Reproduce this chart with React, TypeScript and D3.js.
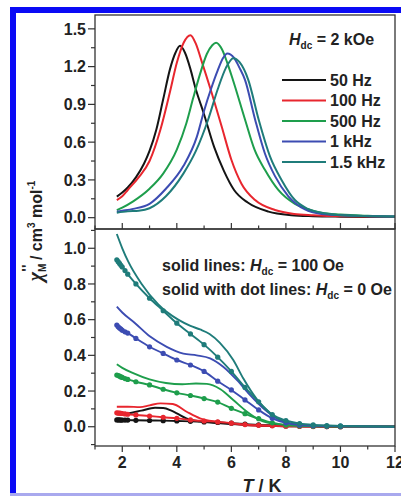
import React from "react";
import * as d3 from "d3";

type P = [number, number];

// ---------- Top panel (Hdc = 2 kOe) ----------
const TOP_LABELS = ["50 Hz", "100 Hz", "500 Hz", "1 kHz", "1.5 kHz"];
const TOP_50: P[] = [[1.8,0.167],[2.0,0.2],[2.2,0.24],[2.5,0.32],[2.8,0.43],[3.0,0.53],[3.25,0.7],[3.5,0.94],[3.75,1.18],[3.95,1.31],[4.12,1.365],[4.3,1.31],[4.5,1.18],[4.67,1.04],[5.0,0.82],[5.37,0.56],[5.73,0.37],[6.1,0.22],[6.6,0.12],[7.36,0.048],[8.2,0.02],[9,0.012],[10,0.008],[12,0.005]];
const TOP_100: P[] = [[1.8,0.14],[2.0,0.17],[2.2,0.22],[2.6,0.32],[3.0,0.45],[3.4,0.7],[3.75,1.0],[4.0,1.23],[4.25,1.39],[4.5,1.45],[4.7,1.38],[4.9,1.25],[5.28,0.99],[5.65,0.72],[6.0,0.46],[6.37,0.27],[6.87,0.14],[7.6,0.061],[8.3,0.03],[9,0.02],[10,0.012],[12,0.008]];
const TOP_500: P[] = [[1.8,0.06],[2.0,0.08],[2.4,0.13],[3.0,0.23],[3.5,0.35],[4.0,0.54],[4.35,0.75],[4.6,0.95],[4.85,1.14],[5.1,1.3],[5.3,1.37],[5.44,1.39],[5.65,1.34],[5.85,1.23],[6.05,1.1],[6.5,0.78],[6.85,0.54],[7.23,0.38],[7.72,0.22],[8.33,0.11],[8.7,0.075],[9.3,0.04],[10,0.025],[11,0.015],[12,0.01]];
const TOP_1K: P[] = [[1.8,0.048],[2.0,0.055],[2.4,0.07],[3.0,0.11],[3.6,0.23],[4.24,0.41],[4.73,0.64],[5.0,0.85],[5.25,1.02],[5.5,1.17],[5.7,1.27],[5.85,1.305],[6.1,1.27],[6.3,1.19],[6.5,1.095],[6.87,0.78],[7.23,0.51],[7.6,0.33],[8.09,0.17],[8.7,0.065],[9.3,0.03],[10,0.02],[12,0.01]];
const TOP_15K: P[] = [[1.8,0.04],[2.2,0.05],[2.6,0.055],[3.0,0.075],[3.6,0.17],[4.24,0.35],[4.7,0.53],[5.15,0.78],[5.5,1.02],[5.8,1.19],[6.07,1.267],[6.3,1.235],[6.62,1.095],[7.0,0.78],[7.42,0.485],[7.84,0.3],[8.33,0.14],[8.8,0.07],[9.4,0.035],[10,0.02],[12,0.01]];

// ---------- Bottom panel: solid = Hdc 100 Oe, dotted = Hdc 0 Oe ----------
const S_50: P[] = [[1.8,0.07],[2.2,0.075],[2.7,0.09],[3.2,0.106],[3.5,0.105],[3.8,0.09],[4.0,0.075],[4.35,0.047],[4.85,0.03],[5.5,0.02],[6.5,0.01],[8,0.003],[12,0]];
const S_100: P[] = [[1.8,0.112],[2.2,0.112],[2.65,0.11],[3.0,0.12],[3.4,0.131],[3.85,0.127],[4.36,0.084],[4.85,0.047],[5.46,0.028],[6.0,0.018],[6.5,0.01],[7.5,0.004],[12,0]];
const S_500: P[] = [[1.8,0.35],[2.0,0.33],[2.4,0.3],[3.0,0.265],[3.6,0.245],[4.2,0.238],[4.7,0.242],[5.1,0.24],[5.6,0.21],[6.07,0.15],[6.56,0.085],[7.05,0.037],[7.6,0.015],[8.5,0.005],[12,0]];
const S_1K: P[] = [[1.8,0.673],[2.0,0.64],[2.47,0.58],[3.02,0.505],[3.63,0.448],[4.24,0.41],[4.73,0.4],[5.22,0.383],[5.7,0.336],[6.2,0.262],[6.68,0.178],[7.17,0.103],[7.66,0.047],[8.1,0.02],[8.8,0.008],[10,0.003],[12,0]];
const S_15K: P[] = [[1.8,1.08],[2.0,1.0],[2.22,0.925],[2.71,0.8],[3.32,0.685],[4.05,0.6],[4.5,0.565],[4.85,0.545],[5.2,0.52],[5.58,0.47],[6.07,0.374],[6.44,0.27],[6.93,0.155],[7.42,0.075],[7.9,0.03],[8.5,0.012],[9.5,0.005],[12,0]];

const D_50: P[] = [[1.8,0.038],[1.85,0.038],[1.9,0.038],[1.95,0.037],[2.0,0.037],[2.1,0.037],[2.2,0.037],[2.5,0.036],[3.0,0.035],[3.5,0.034],[4.0,0.032],[4.5,0.03],[5.0,0.027],[5.5,0.024],[6.0,0.02],[6.5,0.015],[7.0,0.01],[7.5,0.007],[8.0,0.004],[8.5,0.003],[9.0,0.002],[9.5,0.001],[10,0],[12,0]];
const D_100: P[] = [[1.8,0.078],[1.85,0.077],[1.9,0.076],[1.95,0.075],[2.0,0.074],[2.1,0.072],[2.2,0.07],[2.5,0.066],[3.0,0.06],[3.5,0.053],[4.0,0.047],[4.5,0.038],[5.0,0.032],[5.5,0.027],[6.0,0.02],[6.5,0.012],[7.0,0.008],[7.5,0.005],[8.0,0.003],[8.5,0.002],[9.0,0.001],[9.5,0.001],[10,0],[12,0]];
const D_500: P[] = [[1.8,0.29],[1.85,0.287],[1.9,0.283],[1.95,0.279],[2.0,0.276],[2.1,0.27],[2.2,0.265],[2.5,0.252],[3.0,0.234],[3.5,0.21],[4.0,0.19],[4.5,0.175],[5.0,0.158],[5.5,0.138],[6.0,0.103],[6.5,0.073],[7.0,0.045],[7.5,0.022],[8.0,0.01],[8.5,0.005],[9.0,0.003],[9.5,0.002],[10,0.001],[12,0]];
const D_1K: P[] = [[1.8,0.57],[1.85,0.56],[1.9,0.553],[1.95,0.547],[2.0,0.54],[2.1,0.532],[2.2,0.525],[2.5,0.495],[3.0,0.448],[3.5,0.411],[4.0,0.374],[4.5,0.346],[5.0,0.31],[5.5,0.255],[6.0,0.206],[6.5,0.15],[7.0,0.094],[7.5,0.047],[8.0,0.022],[8.5,0.01],[9.0,0.006],[9.5,0.004],[10,0.003],[12,0]];
const D_15K: P[] = [[1.8,0.935],[1.85,0.925],[1.9,0.915],[1.95,0.905],[2.0,0.895],[2.1,0.875],[2.2,0.855],[2.5,0.8],[3.0,0.72],[3.5,0.65],[4.0,0.58],[4.5,0.52],[5.0,0.46],[5.5,0.39],[6.0,0.31],[6.5,0.22],[7.0,0.14],[7.5,0.068],[8.0,0.035],[8.5,0.018],[9.0,0.01],[9.5,0.007],[10,0.005],[12,0]];

const COLORS = ["#141414", "#e8262e", "#1e9e4c", "#3c4cb2", "#1f7c7a"];
const TOP_SERIES = [TOP_50, TOP_100, TOP_500, TOP_1K, TOP_15K];
const SOLID_SERIES = [S_50, S_100, S_500, S_1K, S_15K];
const DOT_SERIES = [D_50, D_100, D_500, D_1K, D_15K];

const TOP_YTICKS = [0, 0.3, 0.6, 0.9, 1.2, 1.5];
const TOP_YMINOR = [0.15, 0.45, 0.75, 1.05, 1.35];
const BOT_YTICKS = [0, 0.2, 0.4, 0.6, 0.8, 1.0];
const BOT_YMINOR = [-0.1, 0.1, 0.3, 0.5, 0.7, 0.9, 1.1];
const XTICKS = [2, 4, 6, 8, 10, 12];
const XMINOR = [1, 3, 5, 7, 9, 11];

const W = 401, H = 496;
const L = 95, R = 395, T1 = 15, B1 = 229, B2 = 446;
const FONT = "'Liberation Sans', Arial, sans-serif";

export default function App() {
  const x = d3.scaleLinear().domain([1, 12]).range([L, R]);
  const yTop = d3.scaleLinear().domain([-0.09, 1.61]).range([B1, T1]);
  const yBot = d3.scaleLinear().domain([-0.108, 1.108]).range([B2, B1]);
  const lineTop = d3.line<P>().x(d => x(d[0])).y(d => yTop(d[1])).curve(d3.curveMonotoneX);
  const lineBot = d3.line<P>().x(d => x(d[0])).y(d => yBot(d[1])).curve(d3.curveMonotoneX);
  const fmt1 = d3.format(".1f");

  return (
    <svg width={W} height={H} style={{ position: "absolute", left: 0, top: 0 }} fontFamily={FONT} fontWeight="bold">
      <rect x={0} y={0} width={W} height={H} fill="#fff" />
      {/* blue frame */}
      <rect x={10} y={7} width={W - 10} height={6} fill="#0a0af5" />
      <rect x={10} y={7} width={6} height={H - 7} fill="#0a0af5" />
      <rect x={10} y={493} width={W - 10} height={3} fill="#a9a9ee" />

      <defs>
        <clipPath id="cTop"><rect x={L} y={T1} width={R - L} height={B1 - T1} /></clipPath>
        <clipPath id="cBot"><rect x={L} y={B1} width={R - L} height={B2 - B1} /></clipPath>
      </defs>

      {/* top curves */}
      <g clipPath="url(#cTop)" fill="none" strokeWidth={2}>
        {TOP_SERIES.map((s, i) => (
          <path key={i} d={lineTop(s) || ""} stroke={COLORS[i]} />
        ))}
      </g>

      {/* bottom curves */}
      <g clipPath="url(#cBot)" fill="none" strokeWidth={1.9}>
        {SOLID_SERIES.map((s, i) => (
          <path key={"s" + i} d={lineBot(s) || ""} stroke={COLORS[i]} />
        ))}
        {DOT_SERIES.map((s, i) => (
          <g key={"d" + i}>
            <path d={lineBot(s) || ""} stroke={COLORS[i]} />
            {s.filter(p => p[0] <= 10).map((p, j) => (
              <circle key={j} cx={x(p[0])} cy={yBot(p[1])} r={2.6} fill={COLORS[i]} stroke="none" />
            ))}
          </g>
        ))}
      </g>

      {/* frames */}
      <g fill="none" stroke="#333" strokeWidth={1.3}>
        <rect x={L} y={T1} width={R - L} height={B1 - T1} />
        <rect x={L} y={B1} width={R - L} height={B2 - B1} />
      </g>

      {/* top y axis */}
      <g stroke="#333" strokeWidth={1.2}>
        {TOP_YTICKS.map(v => <line key={v} x1={L - 7} x2={L} y1={yTop(v)} y2={yTop(v)} />)}
        {TOP_YMINOR.map(v => <line key={v} x1={L - 4} x2={L} y1={yTop(v)} y2={yTop(v)} />)}
        {BOT_YTICKS.map(v => <line key={v} x1={L - 7} x2={L} y1={yBot(v)} y2={yBot(v)} />)}
        {BOT_YMINOR.map(v => <line key={v} x1={L - 4} x2={L} y1={yBot(v)} y2={yBot(v)} />)}
        {XTICKS.map(t => <line key={"a" + t} x1={x(t)} x2={x(t)} y1={B1} y2={B1 - 6} />)}
        {XMINOR.map(t => <line key={"b" + t} x1={x(t)} x2={x(t)} y1={B1} y2={B1 - 3.5} />)}
        {XTICKS.map(t => <line key={"c" + t} x1={x(t)} x2={x(t)} y1={B2} y2={B2 + 6} />)}
        {XMINOR.map(t => <line key={"d" + t} x1={x(t)} x2={x(t)} y1={B2} y2={B2 + 3.5} />)}
      </g>
      <g fontSize={16} fill="#222" textAnchor="end">
        {TOP_YTICKS.map(v => <text key={v} x={L - 9} y={yTop(v)} dy="0.36em">{fmt1(v)}</text>)}
        {BOT_YTICKS.map(v => <text key={v} x={L - 9} y={yBot(v)} dy="0.36em">{fmt1(v)}</text>)}
      </g>
      <g fontSize={16} fill="#222" textAnchor="middle">
        {XTICKS.map(t => <text key={t} x={x(t)} y={468}>{t}</text>)}
      </g>

      {/* axis titles */}
      <text x={262} y={492} fontSize={18} textAnchor="middle" fill="#222">
        <tspan fontStyle="italic">T</tspan> / K
      </text>
      <text transform="translate(42,231) rotate(-90)" fontSize={16} textAnchor="middle" fill="#222">
        <tspan fontFamily="'Liberation Serif', serif" fontStyle="italic" fontSize={20}>χ</tspan>
        <tspan fontSize={10} dy={4}>M</tspan>
        <tspan fontSize={15} dx={-8} dy={-14}>''</tspan>
        <tspan dy={10}> / cm</tspan>
        <tspan fontSize={10} dy={-7}>3</tspan>
        <tspan dy={7}> mol</tspan>
        <tspan fontSize={10} dy={-7}>-1</tspan>
      </text>

      {/* top legend */}
      <text x={289} y={45} fontSize={16} fill="#222">
        <tspan fontStyle="italic">H</tspan>
        <tspan fontSize={10} dy={4}>dc</tspan>
        <tspan dy={-4}> = 2 kOe</tspan>
      </text>
      {TOP_LABELS.map((lab, i) => (
        <g key={lab}>
          <line x1={282} x2={326} y1={80 + i * 20.5} y2={80 + i * 20.5} stroke={COLORS[i]} strokeWidth={2.2} />
          <text x={330} y={80 + i * 20.5} dy="0.36em" fontSize={16} fill="#222">{lab}</text>
        </g>
      ))}

      {/* bottom annotation */}
      <text x={162} y={271} fontSize={16} fill="#222">
        solid lines: <tspan fontStyle="italic">H</tspan>
        <tspan fontSize={10} dy={4}>dc</tspan>
        <tspan dy={-4}> = 100 Oe</tspan>
      </text>
      <text x={162} y={295} fontSize={16} fill="#222">
        solid with dot lines: <tspan fontStyle="italic">H</tspan>
        <tspan fontSize={10} dy={4}>dc</tspan>
        <tspan dy={-4}> = 0 Oe</tspan>
      </text>
    </svg>
  );
}
